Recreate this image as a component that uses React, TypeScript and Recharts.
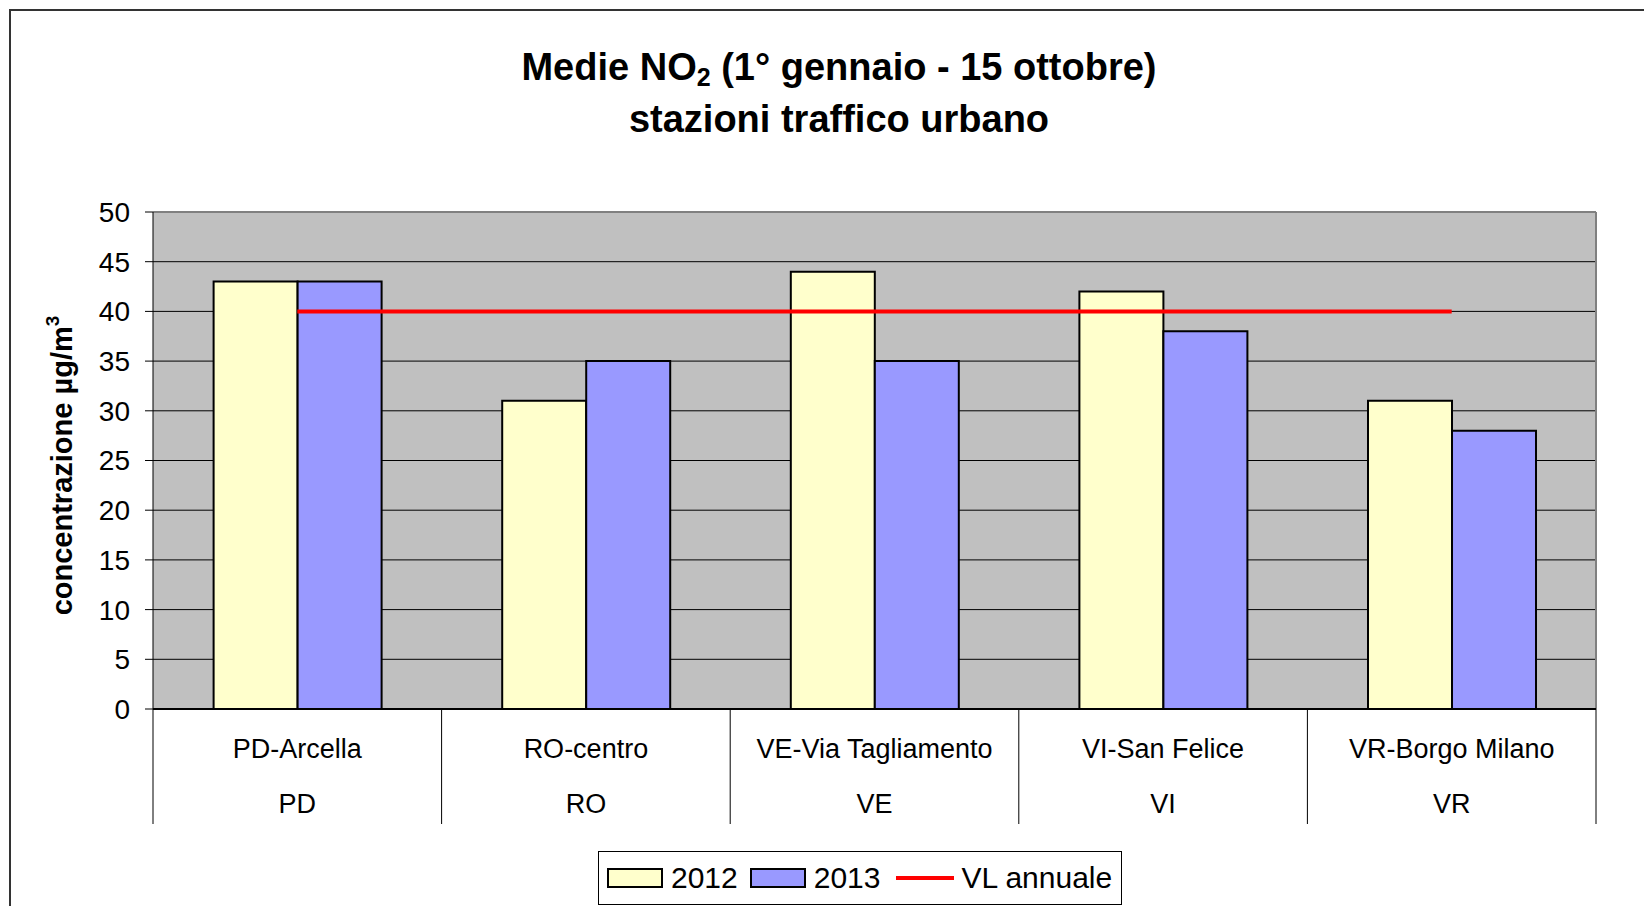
import React from "react";
import {
  Bar,
  CartesianGrid,
  ComposedChart,
  Label,
  Line,
  XAxis,
  YAxis,
} from "recharts";

const stations = ["PD-Arcella", "RO-centro", "VE-Via Tagliamento", "VI-San Felice", "VR-Borgo Milano"];
const provinces = ["PD", "RO", "VE", "VI", "VR"];
const values2012 = [43, 31, 44, 42, 31];
const values2013 = [43, 35, 35, 38, 28];
const vlAnnuale = [40, 40, 40, 40, 40];
const yTicks = [0, 5, 10, 15, 20, 25, 30, 35, 40, 45, 50];

const data = stations.map((station, i) => ({
  station,
  province: provinces[i],
  y2012: values2012[i],
  y2013: values2013[i],
  vl: vlAnnuale[i],
}));

const FONT = '"Liberation Sans", Arial, sans-serif';
const W = 1644;
const H = 906;

function StationTick(props: any) {
  const { x, y, payload, index } = props;
  const half = payload?.offset ?? 144.3;
  const i = index ?? payload?.index ?? 0;
  return (
    <g>
      <line x1={x - half} y1={y} x2={x - half} y2={y + 115} stroke="#000" strokeWidth={1} />
      {i === stations.length - 1 && (
        <line x1={x + half} y1={y} x2={x + half} y2={y + 115} stroke="#000" strokeWidth={1} />
      )}
      <text x={x} y={y + 49} textAnchor="middle" fontSize={27} fontFamily={FONT} fill="#000">
        {payload.value}
      </text>
      <text x={x} y={y + 104} textAnchor="middle" fontSize={27} fontFamily={FONT} fill="#000">
        {provinces[i]}
      </text>
    </g>
  );
}

function YTitle(props: any) {
  const vb = props.viewBox || { x: 0, y: 212, width: 153, height: 497 };
  const cx = vb.x + 72;
  const cy = vb.y + vb.height / 2 + 5;
  return (
    <text
      x={cx}
      y={cy}
      transform={`rotate(-90 ${cx} ${cy})`}
      textAnchor="middle"
      fontSize={29}
      fontWeight="bold"
      fontFamily={FONT}
      fill="#000"
    >
      concentrazione µg/m
      <tspan dy={-13} fontSize={19}>3</tspan>
    </text>
  );
}

function LegendBox() {
  const swatch = (fill: string) => (
    <span
      style={{
        display: "inline-block",
        width: 56,
        height: 20,
        boxSizing: "border-box",
        border: "2px solid #000",
        background: fill,
      }}
    />
  );
  return (
    <div
      style={{
        position: "absolute",
        left: 598,
        top: 851,
        width: 524,
        height: 54,
        boxSizing: "border-box",
        border: "1px solid #000",
        background: "#fff",
        display: "flex",
        alignItems: "center",
        fontFamily: FONT,
        fontSize: 30,
        color: "#000",
        whiteSpace: "nowrap",
      }}
    >
      <span style={{ marginLeft: 8, display: "flex" }}>{swatch("#FFFFCC")}</span>
      <span style={{ marginLeft: 8 }}>2012</span>
      <span style={{ marginLeft: 12, display: "flex" }}>{swatch("#9999FF")}</span>
      <span style={{ marginLeft: 8 }}>2013</span>
      <span
        style={{ marginLeft: 15, display: "inline-block", width: 58, height: 4, background: "#FF0000" }}
      />
      <span style={{ marginLeft: 8 }}>VL annuale</span>
    </div>
  );
}

export default function App() {
  return (
    <div
      style={{
        position: "absolute",
        left: 0,
        top: 0,
        width: W,
        height: H,
        overflow: "hidden",
        background: "#fff",
        fontFamily: FONT,
      }}
    >
      {/* chart frame, only left and top edges are visible in the original */}
      <div
        style={{
          position: "absolute",
          left: 9,
          top: 9,
          width: W - 9,
          height: H - 9,
          boxSizing: "border-box",
          borderLeft: "2px solid #333",
          borderTop: "2px solid #333",
        }}
      />
      <div
        style={{
          position: "absolute",
          left: 339,
          top: 41,
          width: 1000,
          textAlign: "center",
          fontSize: 38,
          fontWeight: "bold",
          lineHeight: "52px",
          color: "#000",
        }}
      >
        <div>
          Medie NO
          <span style={{ fontSize: 25, verticalAlign: "-6px", lineHeight: 0 }}>2</span> (1° gennaio - 15 ottobre)
        </div>
        <div>stazioni traffico urbano</div>
      </div>

      <div style={{ position: "absolute", left: 0, top: 0 }}>
        <ComposedChart
          width={W}
          height={H}
          data={data}
          margin={{ top: 212, right: 48, bottom: 82, left: 0 }}
          barCategoryGap="21%"
          barGap={0}
        >
          <CartesianGrid vertical={false} stroke="#000" strokeWidth={1} fill="#C0C0C0" fillOpacity={1} />
          {/* gray frame on the top and right edges of the plot area */}
          <CartesianGrid
            stroke="#808080"
            strokeWidth={2}
            horizontalCoordinatesGenerator={({ offset }: any) => [offset.top]}
            verticalCoordinatesGenerator={({ offset }: any) => [offset.left + offset.width]}
          />
          <XAxis
            dataKey="station"
            height={115}
            tickSize={0}
            tickMargin={0}
            tickLine={false}
            axisLine={{ stroke: "#000", strokeWidth: 2 }}
            tick={<StationTick />}
            interval={0}
          />
          <YAxis
            width={153}
            domain={[0, 50]}
            ticks={yTicks}
            interval={0}
            tickSize={8}
            tickMargin={15}
            tickLine={{ stroke: "#000" }}
            axisLine={{ stroke: "#000", strokeWidth: 1 }}
            tick={{ fontSize: 28, fill: "#000", fontFamily: FONT }}
          >
            <Label content={<YTitle />} />
          </YAxis>
          <Bar dataKey="y2012" name="2012" fill="#FFFFCC" stroke="#000" strokeWidth={2} isAnimationActive={false} />
          <Bar dataKey="y2013" name="2013" fill="#9999FF" stroke="#000" strokeWidth={2} isAnimationActive={false} />
          <Line
            dataKey="vl"
            name="VL annuale"
            type="linear"
            stroke="#FF0000"
            strokeWidth={4}
            dot={false}
            activeDot={false}
            isAnimationActive={false}
          />
        </ComposedChart>
      </div>
      <LegendBox />
    </div>
  );
}
